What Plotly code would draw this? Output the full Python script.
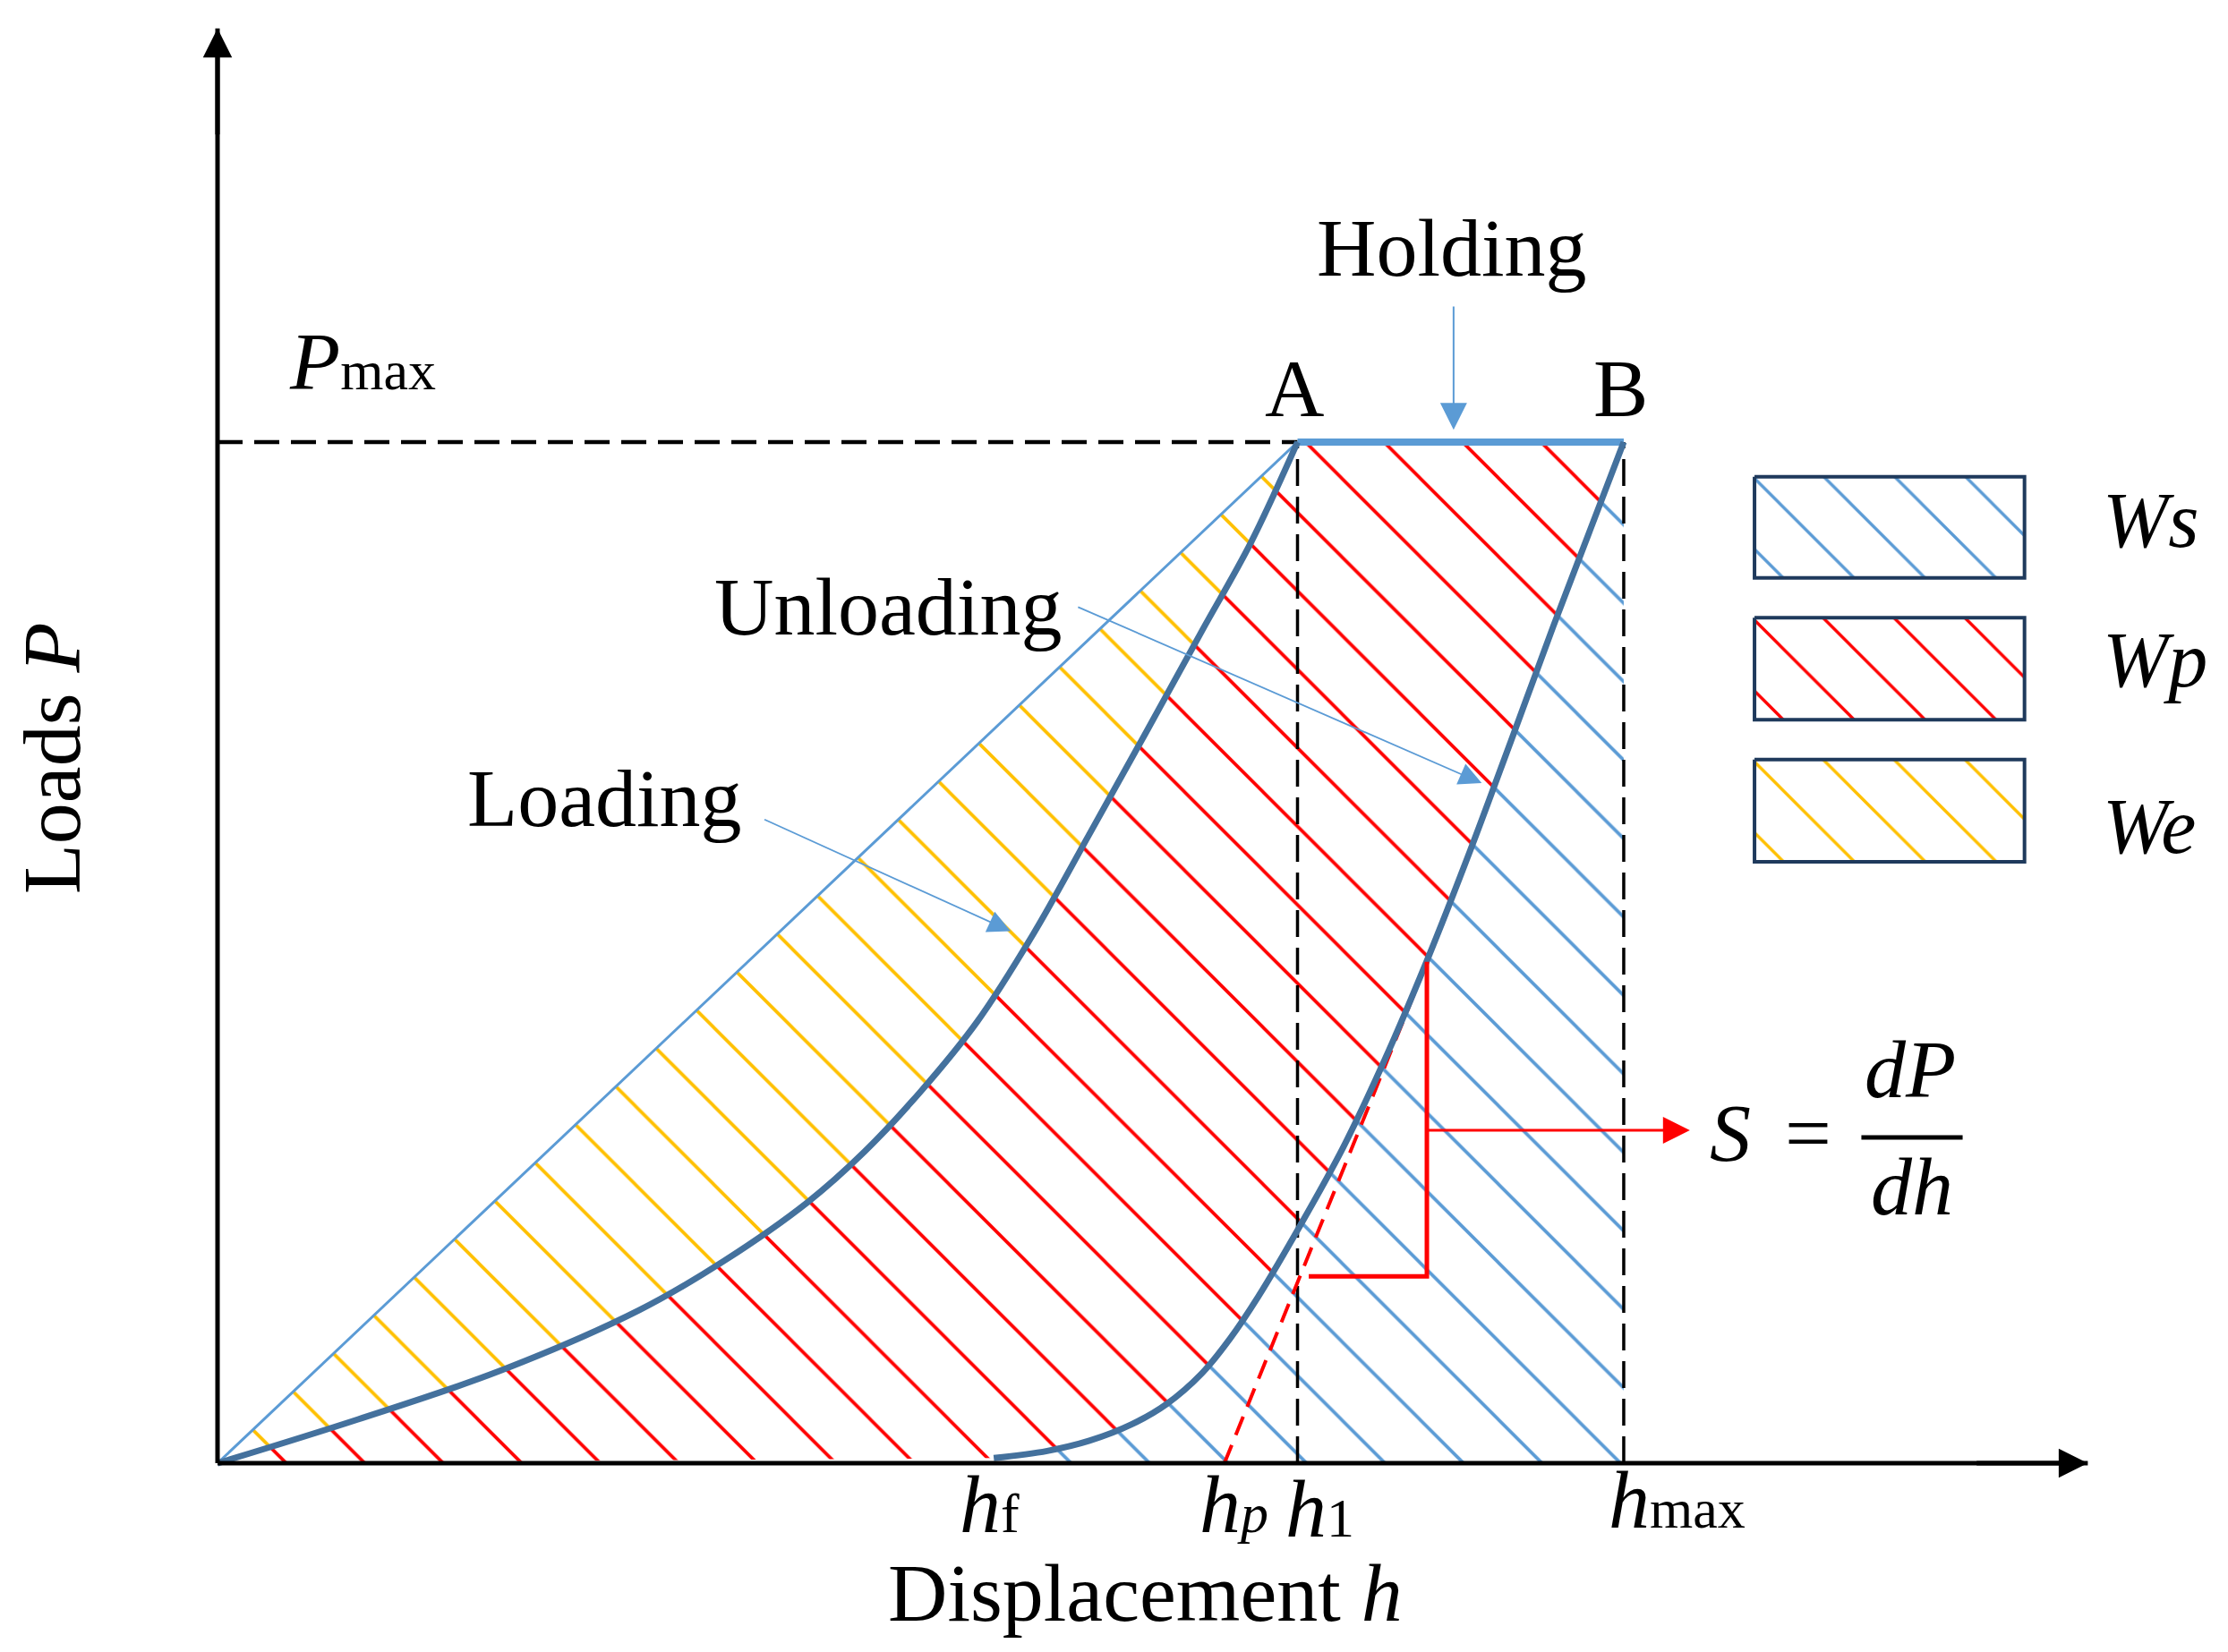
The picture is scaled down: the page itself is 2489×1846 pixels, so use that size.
import plotly.graph_objects as go

FONT = 'Liberation Serif, Times New Roman, serif'

# key points of the curve (h in arbitrary units, P in % of P_max)
P_max = 100
h_f = 55.2
h_p = 71.6
h_1 = 76.8
h_max = 100

# loading branch, O -> A
h_loading = [0, 10, 20, 30, 36, 42, 46, 50, 54, 58, 62, 66, 70, 73.5, 76.8]
P_loading = [0, 4.3, 9.0, 15.0, 19.8, 25.6, 30.5, 36.4, 43.2, 51.8, 61.6, 71.5, 81.5, 90.2, 100]

# unloading branch, h_f -> B
h_unloading = [55.2, 59, 62, 65, 67.5, 70, 72, 74, 77, 80, 83, 86, 89, 92, 95, 97.5, 100]
P_unloading = [0.5, 1.2, 2.2, 3.8, 5.8, 8.8, 12.2, 16.3, 23.3, 30.8, 39.5, 49.2, 59.7, 70.8, 82.0, 91.0, 100]

# tangent at the top of unloading (S = dP/dh) and the slope triangle
h_tangent = [h_p, 87.4]
P_tangent = [0, 53.8]
h_triangle = [86.0, 86.0, 77.6]
P_triangle = [49.1, 18.3, 18.3]

legend_names = ['Ws', 'Wp', 'We']

BLUE = '#5B9BD5'
DARK = '#44719D'
RED = '#FF0000'
YELLOW = '#FFC000'
NAVY = '#1F3A5C'
hatch_colors = [BLUE, RED, YELLOW]


def hatch(color, size=62, bg='rgba(0,0,0,0)'):
    return dict(shape='\\', fgcolor=color, fgopacity=1, bgcolor=bg, size=size, solidity=0.06)


def line(x, y, color, width, dash='solid', shape='linear'):
    return go.Scatter(x=x, y=y, mode='lines', hoverinfo='skip',
                      line=dict(color=color, width=width, dash=dash, shape=shape,
                                simplify=False))


def area(x, y, color):
    return go.Scatter(x=x, y=y, mode='lines', hoverinfo='skip', opacity=1,
                      line=dict(width=0, shape='spline', simplify=False),
                      fill='tonexty', fillpattern=hatch(color))


fig = go.Figure()

# --- hatched areas ---
# We : between the chord O-A and the loading curve
fig.add_trace(line([0, h_1], [0, P_max], BLUE, 0))
fig.add_trace(area(h_loading, P_loading, YELLOW))
# Wp : between loading curve (+ A-B) and unloading curve
fig.add_trace(area(h_unloading, P_unloading, RED))
# Ws : between unloading curve and h_max
fig.add_trace(line([h_f, h_max, h_max], [0, 0, P_max], BLUE, 0))
fig.add_trace(area(h_unloading, P_unloading, BLUE))

# --- guide lines ---
fig.add_trace(line([0, h_1], [P_max, P_max], 'black', 4.5, dash='28px,13px'))
fig.add_trace(line([h_1, h_1], [0, P_max], 'black', 3.5, dash='30px,12px'))
fig.add_trace(line([h_max, h_max], [0, P_max], 'black', 3.5, dash='30px,12px'))
fig.add_trace(line(h_tangent, P_tangent, RED, 4, dash='22px,12px'))

# --- curves ---
fig.add_trace(line([0, h_1], [0, P_max], BLUE, 3))
fig.add_trace(line([h_1, h_max], [P_max, P_max], BLUE, 8))
fig.add_trace(line(h_loading, P_loading, DARK, 7, shape='spline'))
fig.add_trace(line(h_unloading, P_unloading, DARK, 7, shape='spline'))
fig.add_trace(line(h_triangle, P_triangle, RED, 5))

# axes
fig.add_trace(line([0, 133], [0, 0], 'black', 5))
fig.add_trace(line([0, 0], [0, 140.5], 'black', 5))

# fraction bar of dP/dh
fig.add_trace(line([116.9, 124.1], [31.9, 31.9], 'black', 5))

# --- legend swatches ---
box_top = [96.6, 82.8, 68.9]
box_bottom = [86.7, 72.8, 58.9]
for name, col, top, bot in zip(legend_names, hatch_colors, box_top, box_bottom):
    fig.add_trace(go.Scatter(x=[109.3, 128.5, 128.5, 109.3, 109.3], y=[top, top, bot, bot, top],
                             mode='lines', hoverinfo='skip', fill='toself',
                             fillpattern=hatch(col, size=56, bg='white'),
                             line=dict(color=NAVY, width=4)))


def label(x, y, text, size=92, xanchor='center', **kw):
    return dict(x=x, y=y, xref='x', yref='y', text=text, showarrow=False,
                font=dict(family=FONT, size=size, color='black'), borderpad=0,
                xanchor=xanchor, yanchor='middle', **kw)


def arrow(x, y, ax, ay, color, width, size):
    return dict(x=x, y=y, ax=ax, ay=ay, xref='x', yref='y', axref='x', ayref='y',
                text='', showarrow=True, arrowhead=2, arrowsize=size, arrowwidth=width,
                arrowcolor=color, standoff=0, font=dict(size=1))


def sub(t):
    return '<span style="font-size:62px">' + t + '</span>'


annotations = [
    label(87.8, 119.0, 'Holding'),
    label(76.6, 105.3, 'A'),
    label(99.8, 105.3, 'B'),
    label(5.0, 107.9, '<i>P</i>' + sub('max'), xanchor='left'),
    label(47.7, 83.9, 'Unloading'),
    label(27.5, 65.1, 'Loading'),
    label(54.9, -4.0, '<i>h</i>' + sub('f')),
    label(72.3, -4.0, '<i>h</i>' + sub('<i>p</i>')),
    label(78.4, -4.5, '<i>h</i>' + sub('1')),
    label(103.8, -3.6, '<i>h</i>' + sub('max')),
    label(66.0, -12.7, 'Displacement <i>h</i>'),
    label(-11.8, 69.0, 'Loads <i>P</i>', textangle=-90),
    label(134.0, 92.3, '<i>' + legend_names[0] + '</i>', size=88, xanchor='left'),
    label(134.0, 78.7, '<i>' + legend_names[1] + '</i>', size=88, xanchor='left'),
    label(134.0, 62.4, '<i>' + legend_names[2] + '</i>', size=88, xanchor='left'),
    label(107.6, 32.3, '<i>S</i>'),
    label(113.1, 32.3, '='),
    label(120.4, 38.6, '<i>dP</i>'),
    label(120.5, 27.1, '<i>dh</i>'),
    # arrows
    arrow(87.9, 101.2, 87.9, 113.4, BLUE, 2, 3),
    arrow(56.4, 52.1, 38.8, 63.1, BLUE, 1.8, 2.8),
    arrow(89.9, 66.6, 61.1, 83.9, BLUE, 1.8, 2.8),
    arrow(104.7, 32.6, 86.0, 32.6, RED, 3, 2),
    arrow(0, 140.5, 0, 130, 'black', 5, 1.3),
    arrow(133, 0, 125, 0, 'black', 5, 1.3),
]

fig.update_layout(
    width=2489, height=1846,
    margin=dict(l=0, r=0, t=0, b=0),
    paper_bgcolor='white', plot_bgcolor='white',
    showlegend=False,
    xaxis=dict(visible=False, range=[-14.96, 143.48], fixedrange=True),
    yaxis=dict(visible=False, range=[-19.19, 142.59], fixedrange=True),
    annotations=annotations,
    font=dict(family=FONT),
)

fig.write_html('out.html')
